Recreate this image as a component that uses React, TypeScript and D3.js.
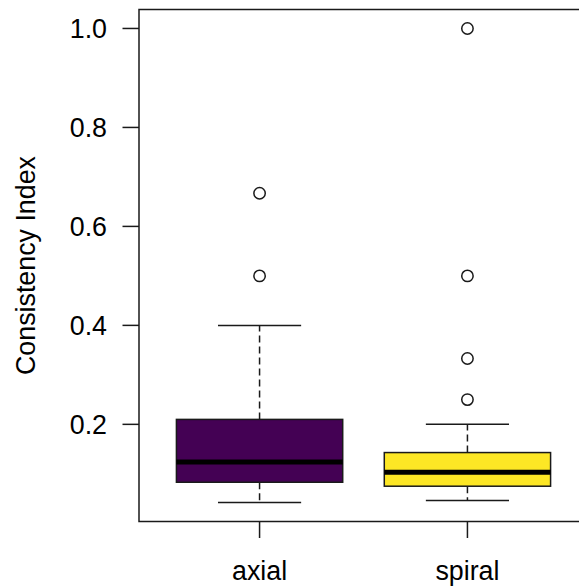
import React from 'react';
import * as d3 from 'd3';

const categories = ['axial', 'spiral'];
const fills = ['#440154', '#FDE725'];
const lowerWhisker = [0.042, 0.046];
const q1 = [0.083, 0.075];
const medians = [0.124, 0.103];
const q3 = [0.21, 0.143];
const upperWhisker = [0.4, 0.2];
const outliers = [
  [0.667, 0.5],
  [1.0, 0.5, 0.333, 0.25],
];
const yTicks = [0.2, 0.4, 0.6, 0.8, 1.0];

const W = 579;
const H = 586;
const margin = { top: 9.5, left: 139, bottom: 521.5, right: 588 };
const font = '"Liberation Sans", Arial, sans-serif';
const ink = '#1a1a1a';
const fontSize = 26.8;

const App = () => {
  // R-style limits: data range padded by 4%
  const lo = d3.min(lowerWhisker) as number;
  const hi = d3.max(outliers.flat().concat(upperWhisker)) as number;
  const pad = (hi - lo) * 0.04;
  const y = d3.scaleLinear().domain([lo - pad, hi + pad]).range([margin.bottom, margin.top]);
  const x = d3.scaleLinear().domain([0.42, categories.length + 0.58]).range([margin.left, margin.right]);
  const unit = x(1) - x(0);
  const boxW = unit * 0.8;
  const stapleW = boxW / 2;

  return (
    <svg width={W} height={H} style={{ position: 'absolute', left: 0, top: 0, background: '#fff' }}>
      {categories.map((c, i) => {
        const cx = x(i + 1);
        return (
          <g key={c}>
            {/* whiskers */}
            <line x1={cx} x2={cx} y1={y(q3[i])} y2={y(upperWhisker[i])} stroke={ink} strokeWidth={1.5} strokeDasharray="7,4" />
            <line x1={cx} x2={cx} y1={y(q1[i])} y2={y(lowerWhisker[i])} stroke={ink} strokeWidth={1.5} strokeDasharray="7,4" />
            <line x1={cx - stapleW / 2} x2={cx + stapleW / 2} y1={y(upperWhisker[i])} y2={y(upperWhisker[i])} stroke={ink} strokeWidth={1.5} />
            <line x1={cx - stapleW / 2} x2={cx + stapleW / 2} y1={y(lowerWhisker[i])} y2={y(lowerWhisker[i])} stroke={ink} strokeWidth={1.5} />
            {/* box */}
            <rect x={cx - boxW / 2} width={boxW} y={y(q3[i])} height={y(q1[i]) - y(q3[i])} fill={fills[i]} stroke={ink} strokeWidth={1.5} />
            <line x1={cx - boxW / 2} x2={cx + boxW / 2} y1={y(medians[i])} y2={y(medians[i])} stroke="#000" strokeWidth={5} />
            {/* outliers */}
            {outliers[i].map((v, j) => (
              <circle key={j} cx={cx} cy={y(v)} r={5.7} fill="none" stroke={ink} strokeWidth={1.5} />
            ))}
            {/* x tick + label */}
            <line x1={cx} x2={cx} y1={margin.bottom} y2={margin.bottom + 16.5} stroke={ink} strokeWidth={1.5} />
            <text x={cx} y={580} textAnchor="middle" fontFamily={font} fontSize={fontSize} fill="#000">{c}</text>
          </g>
        );
      })}

      {/* y axis */}
      {yTicks.map(t => (
        <g key={t}>
          <line x1={margin.left - 16.5} x2={margin.left} y1={y(t)} y2={y(t)} stroke={ink} strokeWidth={1.5} />
          <text x={107} y={y(t)} dy="0.36em" textAnchor="end" fontFamily={font} fontSize={fontSize} fill="#000">{t.toFixed(1)}</text>
        </g>
      ))}

      <text transform={`translate(35,${(margin.top + margin.bottom) / 2}) rotate(-90)`} textAnchor="middle" fontFamily={font} fontSize={fontSize} fill="#000">
        Consistency Index
      </text>

      {/* plot frame */}
      <rect x={margin.left} y={margin.top} width={margin.right - margin.left} height={margin.bottom - margin.top} fill="none" stroke={ink} strokeWidth={1.5} />
    </svg>
  );
};

export default App;
